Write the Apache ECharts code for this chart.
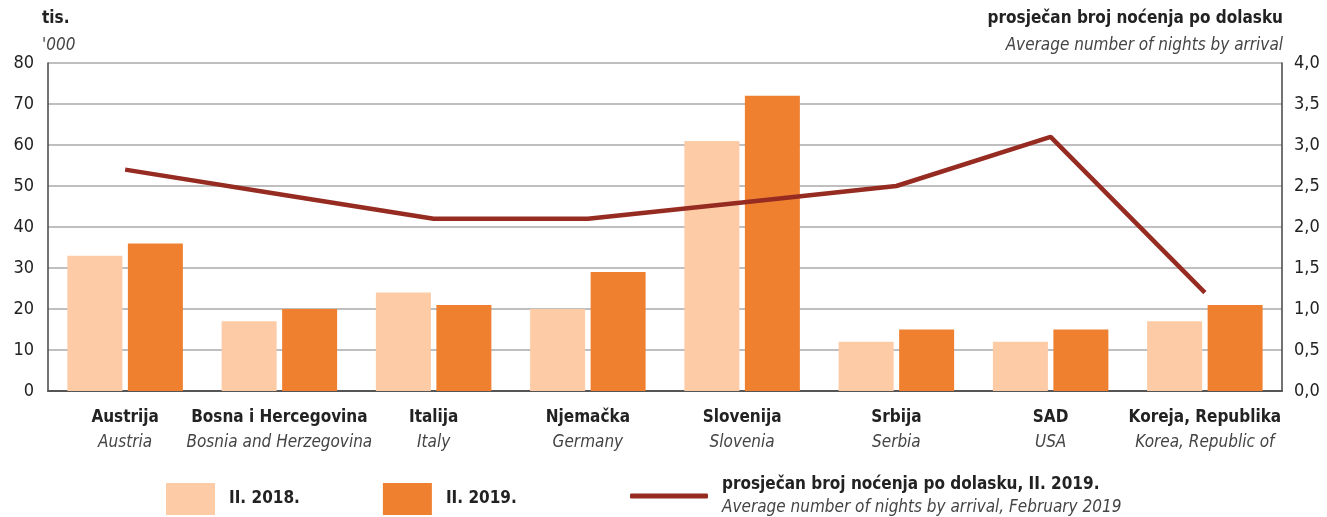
<!DOCTYPE html>
<html>
<head>
<meta charset="utf-8">
<script src="https://cdn.jsdelivr.net/npm/echarts@6/dist/echarts.min.js"></script>
<style>
  html, body { margin: 0; padding: 0; background: #fff; }
  #chart { width: 1327px; height: 517px; }
</style>
</head>
<body>
<div id="chart"></div>
<script>
const FONT = '"DejaVu Sans Condensed", "Liberation Sans Narrow", sans-serif';

const countriesHr = ['Austrija', 'Bosna i Hercegovina', 'Italija', 'Njemačka', 'Slovenija', 'Srbija', 'SAD', 'Koreja, Republika'];
const countriesEn = ['Austria', 'Bosnia and Herzegovina', 'Italy', 'Germany', 'Slovenia', 'Serbia', 'USA', 'Korea, Republic of'];
const nights2018 = [33, 17, 24, 20, 61, 12, 12, 17];
const nights2019 = [36, 20, 21, 29, 72, 15, 15, 21];
const avgNights = [2.7, 2.4, 2.1, 2.1, 2.3, 2.5, 3.1, 1.2];

const lineName = 'prosječan broj noćenja po dolasku, II. 2019.';
const lineNameEn = 'Average number of nights by arrival, February 2019';

const chart = echarts.init(document.getElementById('chart'));

const option = {
    animation: false,
    textStyle: { fontFamily: FONT },
    grid: { left: 48, right: 45, top: 63, bottom: 126 },
    graphic: [
        { type: 'text', left: 42, top: 10, style: { text: 'tis.', font: 'bold 17px ' + FONT, fill: '#222' } },
        { type: 'text', left: 42, top: 37, style: { text: "'000", font: 'italic 17px ' + FONT, fill: '#444' } },
        { type: 'text', right: 44, top: 10, style: { text: 'prosječan broj noćenja po dolasku', font: 'bold 17px ' + FONT, fill: '#222', align: 'right' } },
        { type: 'text', right: 44, top: 37, style: { text: 'Average number of nights by arrival', font: 'italic 17px ' + FONT, fill: '#444', align: 'right' } }
    ],
    legend: [
        {
            data: ['II. 2018.', 'II. 2019.'],
            left: 166,
            top: 483,
            padding: 0,
            itemWidth: 49,
            itemHeight: 32,
            itemGap: 83,
            icon: 'rect',
            textStyle: { fontSize: 17, fontWeight: 'bold', color: '#222', fontFamily: FONT, padding: [0, 0, 0, 9] }
        },
        {
            data: [lineName],
            left: 630,
            top: 476,
            padding: 0,
            itemWidth: 78,
            itemHeight: 5,
            icon: 'roundRect',
            formatter: () => '{a|' + lineName + '}\n{b|' + lineNameEn + '}',
            textStyle: {
                fontFamily: FONT,
                padding: [0, 0, 0, 9],
                rich: {
                    a: { fontSize: 17, fontWeight: 'bold', color: '#222', fontFamily: FONT, lineHeight: 23 },
                    b: { fontSize: 17, color: '#444', fontFamily: FONT, fontStyle: 'italic', lineHeight: 23 }
                }
            }
        }
    ],
    xAxis: {
        type: 'category',
        data: countriesHr,
        axisTick: { show: false },
        axisLine: { lineStyle: { color: '#555', width: 2 } },
        axisLabel: {
            margin: 14,
            interval: 0,
            formatter: (v, i) => '{a|' + v + '}\n{b|' + countriesEn[i] + '}',
            rich: {
                a: { fontSize: 17, fontWeight: 'bold', color: '#222', fontFamily: FONT, lineHeight: 25 },
                b: { fontSize: 17, color: '#444', fontFamily: FONT, fontStyle: 'italic', lineHeight: 25 }
            }
        }
    },
    yAxis: [
        {
            type: 'value',
            min: 0,
            max: 80,
            interval: 10,
            axisLine: { show: true, lineStyle: { color: '#444', width: 1.5 } },
            axisTick: { show: false },
            axisLabel: { fontSize: 18, color: '#222', fontFamily: FONT, margin: 14 },
            splitLine: { lineStyle: { color: '#aaa', width: 1.5 } }
        },
        {
            type: 'value',
            min: 0,
            max: 4,
            interval: 0.5,
            axisLine: { show: true, lineStyle: { color: '#444', width: 1.5 } },
            axisTick: { show: false },
            axisLabel: {
                fontSize: 18, color: '#222', fontFamily: FONT, margin: 12,
                formatter: v => v.toFixed(1).replace('.', ',')
            },
            splitLine: { show: false }
        }
    ],
    series: [
        {
            name: 'II. 2018.',
            type: 'bar',
            data: nights2018,
            barWidth: 55,
            barGap: '10%',
            itemStyle: { color: '#FDCBA5' }
        },
        {
            name: 'II. 2019.',
            type: 'bar',
            data: nights2019,
            barWidth: 55,
            itemStyle: { color: '#EF8030' }
        },
        {
            name: lineName,
            type: 'line',
            yAxisIndex: 1,
            data: avgNights,
            showSymbol: false,
            symbol: 'none',
            lineStyle: { color: '#962B22', width: 4.5 },
            itemStyle: { color: '#962B22' },
            z: 5
        }
    ]
};

chart.setOption(option);
</script>
</body>
</html>
